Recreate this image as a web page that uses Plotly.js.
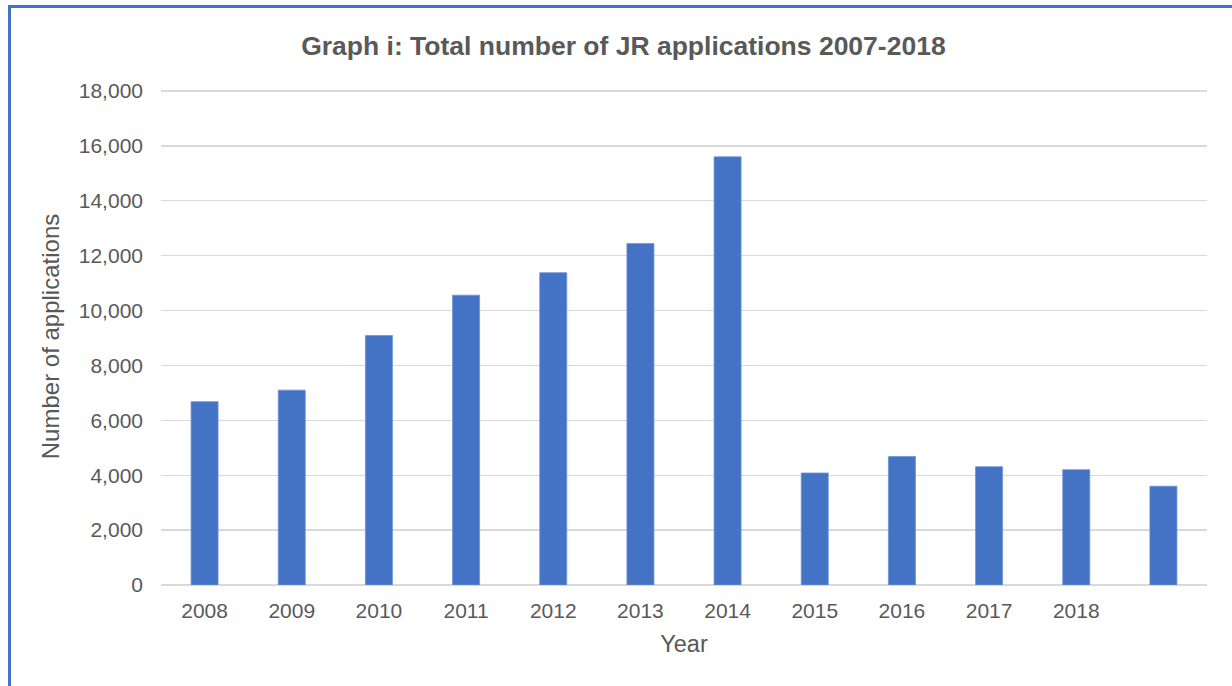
<!DOCTYPE html>
<html>
<head>
<meta charset="utf-8">
<script src="https://cdn.plot.ly/plotly-3.0.1.min.js"></script>
<style>
  html, body { margin: 0; padding: 0; overflow: hidden; background: #ffffff; }
  #chart { width: 1232px; height: 686px; position: absolute; left: 0; top: 0; }
  #frame { position: absolute; left: 8px; top: 5px; width: 1400px; height: 900px;
           border: 3px solid #4472C4; box-sizing: border-box; pointer-events: none; }
</style>
</head>
<body>
<div id="chart"></div>
<div id="frame"></div>
<script>
// Data
const barIndex = [0, 1, 2, 3, 4, 5, 6, 7, 8, 9, 10, 11];
const applications = [6680, 7100, 9090, 10560, 11380, 12440, 15600, 4080, 4680, 4310, 4200, 3600];
const tickPositions = [0, 1, 2, 3, 4, 5, 6, 7, 8, 9, 10];
const tickLabels = ['2008', '2009', '2010', '2011', '2012', '2013', '2014', '2015', '2016', '2017', '2018'];

const fontFam = 'Liberation Sans, Arial, sans-serif';
const grey = '#595959';

const trace = {
  type: 'bar',
  x: barIndex,
  y: applications,
  marker: { color: '#4472C4', line: { color: '#6d93d6', width: 0.8 } },
  hoverinfo: 'y'
};

const layout = {
  width: 1232,
  height: 686,
  margin: { l: 161, r: 25, t: 88, b: 101 },
  paper_bgcolor: '#ffffff',
  plot_bgcolor: '#ffffff',
  bargap: 0.69,
  showlegend: false,
  font: { family: fontFam, color: grey, size: 21 },
  title: {
    text: '<b>Graph i: Total number of JR applications 2007-2018</b>',
    font: { family: fontFam, size: 26.5, color: grey },
    x: 0.506, xanchor: 'center', y: 0.934, yanchor: 'middle'
  },
  xaxis: {
    range: [-0.5, 11.5],
    tickmode: 'array',
    tickvals: tickPositions,
    ticktext: tickLabels,
    showgrid: false,
    showline: false,
    zeroline: false,
    ticks: '',
    tickfont: { family: fontFam, size: 21, color: grey },
    ticklabelstandoff: 11,
    title: { text: 'Year', font: { family: fontFam, size: 23.5, color: grey }, standoff: 14 }
  },
  yaxis: {
    range: [0, 18109],
    tickmode: 'array',
    tickvals: [0, 2000, 4000, 6000, 8000, 10000, 12000, 14000, 16000, 18000],
    tickformat: ',d',
    showgrid: true,
    gridcolor: '#d9d9d9',
    gridwidth: 1.3,
    zeroline: true,
    zerolinecolor: '#d9d9d9',
    zerolinewidth: 2,
    showline: false,
    ticks: '',
    tickfont: { family: fontFam, size: 21, color: grey },
    ticklabelstandoff: 17,
    title: { text: 'Number of applications', font: { family: fontFam, size: 24, color: grey }, standoff: 12 }
  }
};

Plotly.newPlot('chart', [trace], layout, { staticPlot: true, displayModeBar: false });
</script>
</body>
</html>
